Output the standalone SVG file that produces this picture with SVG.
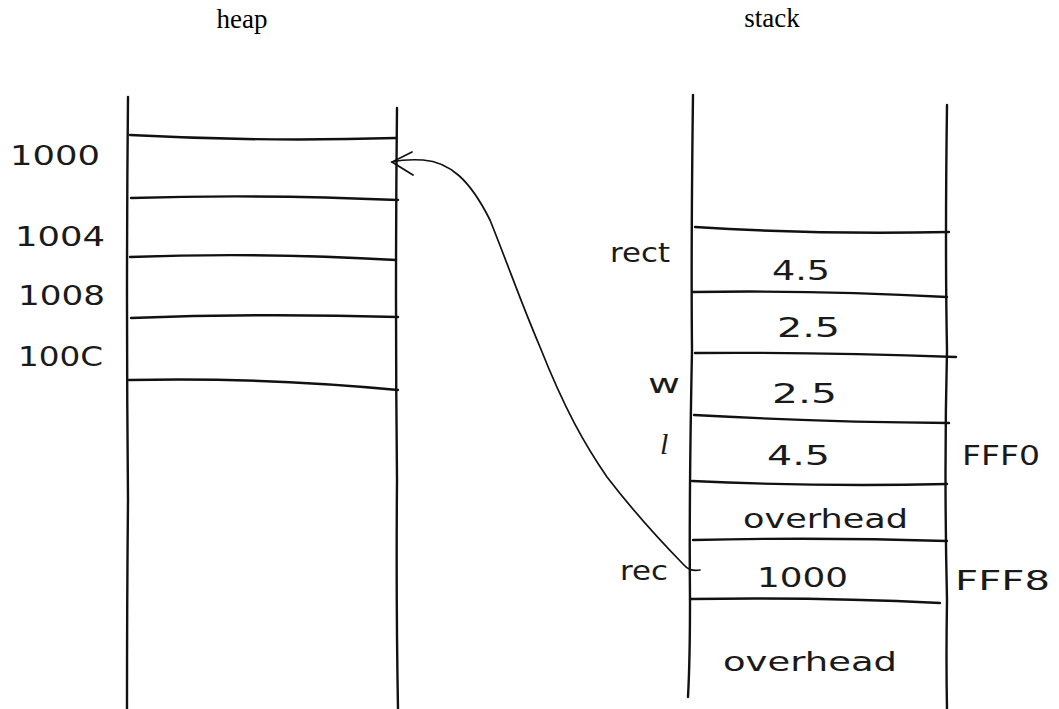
<svg xmlns="http://www.w3.org/2000/svg" width="1059" height="709" viewBox="0 0 1059 709">
<style>
.ln{fill:none;stroke:#111;stroke-width:2.4;stroke-linecap:round}
.thin{fill:none;stroke:#111;stroke-width:1.7;stroke-linecap:round}
.ttl{font-family:"Liberation Serif",serif;font-size:27px;fill:#000;text-anchor:middle}
.hw{font-family:"DejaVu Sans","Liberation Sans",sans-serif;font-size:27px;fill:#1a1a1a}
</style>
<rect width="1059" height="709" fill="#fff"/>
<text class="ttl" x="242" y="28">heap</text>
<text class="ttl" x="772" y="27">stack</text>
<g id="heap">
<path class="ln" d="M128 97 Q126 300 128 500 Q127 600 127 709"/>
<path class="ln" d="M397 108 Q395 300 397 480 Q396 600 398 709"/>
<path class="ln" d="M130 135 Q260 142 396 138"/>
<path class="ln" d="M131 198 Q260 194 398 200"/>
<path class="ln" d="M130 257 Q260 252 396 260"/>
<path class="ln" d="M131 318 Q260 313 398 317"/>
<path class="ln" d="M129 380 Q260 377 398 390"/>
<text class="hw" x="10" y="165" textLength="90" lengthAdjust="spacingAndGlyphs">1000</text>
<text class="hw" x="15" y="246" textLength="90" lengthAdjust="spacingAndGlyphs">1004</text>
<text class="hw" x="18" y="305" textLength="87" lengthAdjust="spacingAndGlyphs">1008</text>
<text class="hw" x="18" y="366" textLength="85" lengthAdjust="spacingAndGlyphs">100C</text>
</g>
<g id="stack">
<path class="ln" d="M693 95 Q691 250 692 350 Q689 500 690 600 Q690 660 688 697"/>
<path class="ln" d="M947 105 Q945 250 947 350 Q944 470 947 600 Q946 660 947 709"/>
<path class="ln" d="M695 227 Q820 235 949 232"/>
<path class="ln" d="M693 292 Q820 290 947 297"/>
<path class="ln" d="M695 353 Q820 352 956 357"/>
<path class="ln" d="M694 415 Q820 422 949 423"/>
<path class="ln" d="M692 481 Q820 487 947 484"/>
<path class="ln" d="M693 540 Q820 537 947 541"/>
<path class="ln" d="M690 599 Q820 597 940 603"/>
<text class="hw" x="772" y="280" textLength="58" lengthAdjust="spacingAndGlyphs">4.5</text>
<text class="hw" x="777" y="337" textLength="63" lengthAdjust="spacingAndGlyphs">2.5</text>
<text class="hw" x="772" y="403" textLength="65" lengthAdjust="spacingAndGlyphs">2.5</text>
<text class="hw" x="767" y="465" textLength="63" lengthAdjust="spacingAndGlyphs">4.5</text>
<text class="hw" x="743" y="528" textLength="165" lengthAdjust="spacingAndGlyphs">overhead</text>
<text class="hw" x="757" y="587" textLength="91" lengthAdjust="spacingAndGlyphs">1000</text>
<text class="hw" x="723" y="671" textLength="174" lengthAdjust="spacingAndGlyphs">overhead</text>
<text class="hw" x="610" y="262" textLength="60" lengthAdjust="spacingAndGlyphs">rect</text>
<text class="hw" x="648" y="393" textLength="32" lengthAdjust="spacingAndGlyphs">w</text>
<text x="660" y="454" font-family="Liberation Serif,serif" font-style="italic" font-size="30" fill="#1a1a1a">l</text>
<text class="hw" x="620" y="580" textLength="48" lengthAdjust="spacingAndGlyphs">rec</text>
<text class="hw" x="962" y="465" textLength="78" lengthAdjust="spacingAndGlyphs">FFF0</text>
<text class="hw" x="955" y="590" textLength="95" lengthAdjust="spacingAndGlyphs">FFF8</text>
</g>
<g id="connectors">
<path class="thin" d="M700 570 Q690 572 684 565 Q640 520 607 477 C585 445 565 410 540 347 C520 300 510 270 490 220 C470 180 450 162 423 160 Q405 159 392 162"/>
<path class="thin" d="M412 152 L392 162 L413 175"/>
</g>
</svg>
